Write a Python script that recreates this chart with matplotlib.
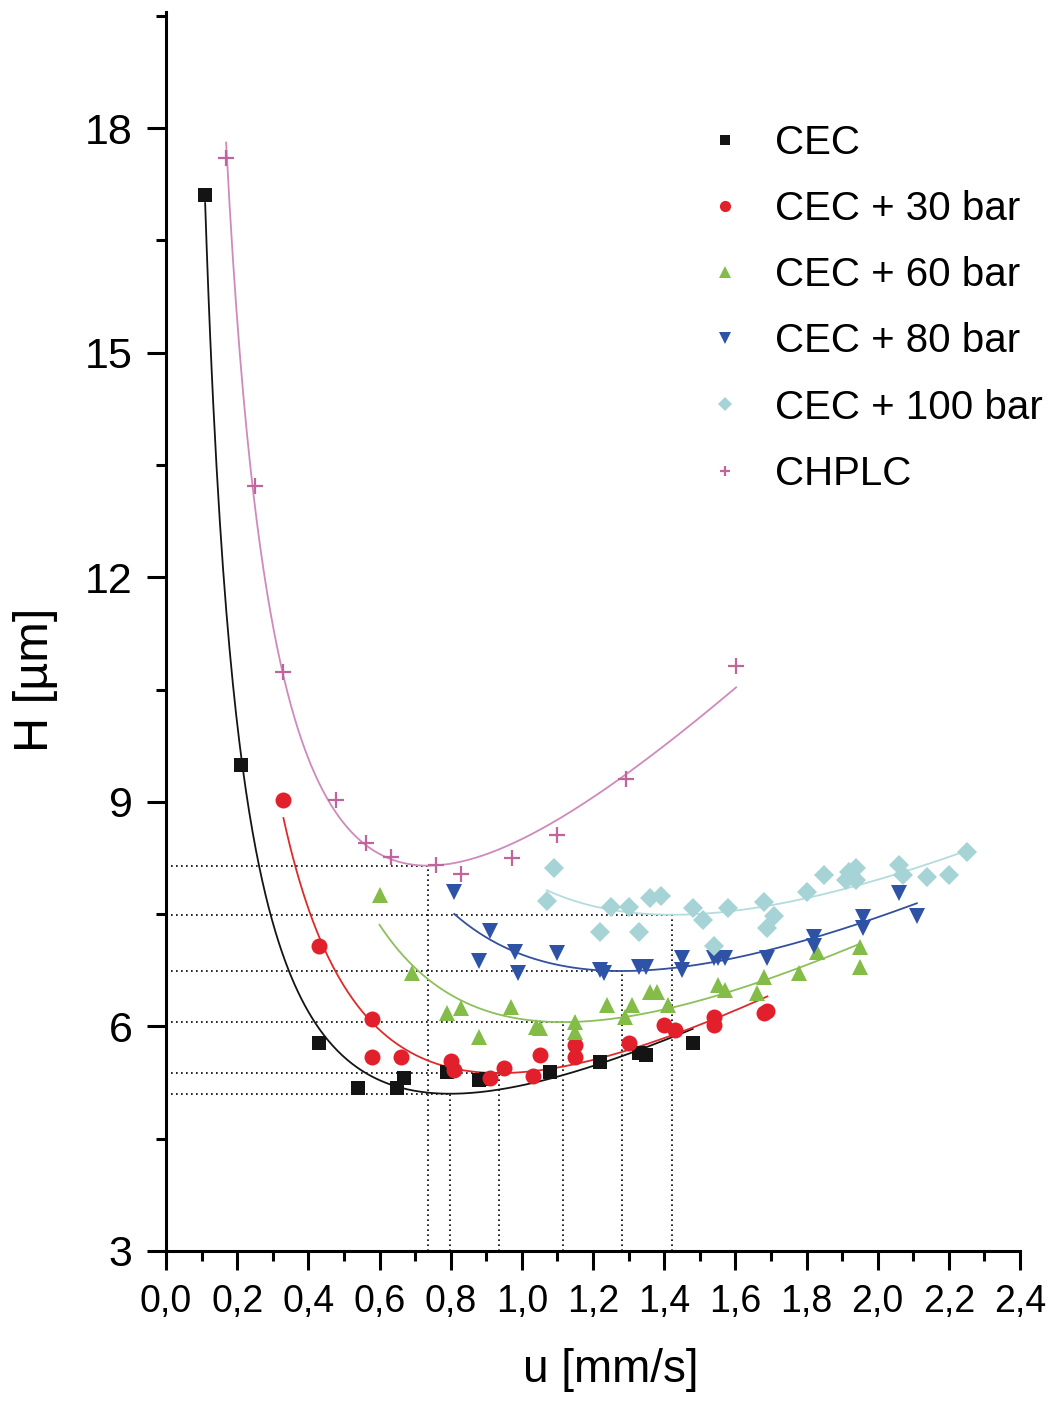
import matplotlib
matplotlib.use("Agg")
import matplotlib.pyplot as plt
from matplotlib.ticker import MultipleLocator, FuncFormatter
import numpy as np

plt.rcParams['font.family'] = ['Liberation Sans', 'DejaVu Sans']

labels = ['CEC', 'CEC + 30 bar', 'CEC + 60 bar', 'CEC + 80 bar', 'CEC + 100 bar', 'CHPLC']

# linear velocity u [mm/s] and plate height H [um]
u_cec = [0.11, 0.21, 0.43, 0.54, 0.65, 0.67, 0.79, 0.88, 0.90, 1.08, 1.22, 1.33, 1.35, 1.48]
h_cec = [17.1, 9.49, 5.78, 5.18, 5.18, 5.31, 5.39, 5.28, 5.30, 5.39, 5.52, 5.64, 5.62, 5.78]

u_30 = [0.33, 0.43, 0.58, 0.58, 0.66, 0.80, 0.81, 0.91, 0.95, 1.03, 1.05, 1.15, 1.15, 1.30,
        1.40, 1.43, 1.54, 1.54, 1.68, 1.69]
h_30 = [9.02, 7.07, 6.10, 5.59, 5.59, 5.54, 5.42, 5.31, 5.44, 5.34, 5.62, 5.75, 5.59, 5.78,
        6.02, 5.95, 6.12, 6.02, 6.18, 6.20]

u_60 = [0.60, 0.69, 0.79, 0.83, 0.88, 0.97, 1.04, 1.05, 1.15, 1.15, 1.24, 1.29, 1.31, 1.36,
        1.38, 1.41, 1.55, 1.57, 1.66, 1.68, 1.78, 1.83, 1.95, 1.95]
h_60 = [7.75, 6.71, 6.18, 6.24, 5.86, 6.26, 5.99, 5.98, 6.06, 5.92, 6.28, 6.12, 6.28, 6.46,
        6.46, 6.28, 6.55, 6.48, 6.44, 6.66, 6.71, 6.99, 7.06, 6.79]

u_80 = [0.81, 0.88, 0.91, 0.98, 0.99, 1.10, 1.22, 1.23, 1.33, 1.35, 1.45, 1.45, 1.54, 1.55,
        1.57, 1.69, 1.82, 1.82, 1.96, 1.96, 2.06, 2.11]
h_80 = [7.79, 6.88, 7.28, 6.99, 6.71, 6.98, 6.75, 6.71, 6.79, 6.79, 6.91, 6.75, 6.91, 6.91,
        6.91, 6.91, 7.19, 7.08, 7.46, 7.31, 7.78, 7.48]

u_100 = [1.07, 1.09, 1.22, 1.25, 1.30, 1.33, 1.36, 1.39, 1.48, 1.51, 1.54, 1.58, 1.68, 1.69,
         1.71, 1.80, 1.85, 1.91, 1.92, 1.94, 1.94, 2.06, 2.07, 2.14, 2.20, 2.25]
h_100 = [7.68, 8.12, 7.26, 7.59, 7.59, 7.26, 7.72, 7.74, 7.58, 7.42, 7.08, 7.58, 7.66, 7.31,
         7.48, 7.79, 8.02, 7.95, 8.06, 8.12, 7.95, 8.15, 8.02, 7.99, 8.02, 8.33]

u_hplc = [0.169, 0.25, 0.329, 0.478, 0.562, 0.633, 0.759, 0.829, 0.972, 1.099, 1.293, 1.602]
h_hplc = [17.60, 13.22, 10.74, 9.02, 8.45, 8.26, 8.15, 8.03, 8.25, 8.55, 9.31, 10.82]

series = [(u_cec, h_cec), (u_30, h_30), (u_60, h_60), (u_80, h_80), (u_100, h_100), (u_hplc, h_hplc)]

markers = ['s', 'o', '^', 'v', 'D', '+']
msizes = [10.5, 11.5, 12, 12, 10, 11]
point_colors = ['#141414', '#e1202b', '#84bc48', '#2d52a6', '#a6d4d6', '#c0649c']
line_colors = ['#141414', '#e02a2a', '#8cc05a', '#33509e', '#b4dcdc', '#cf8abb']

fig = plt.figure(figsize=(10.58, 14.01), dpi=100)
ax = fig.add_axes([0.1569, 0.1071, 0.8072, 0.8843])

for i, (u, h) in enumerate(series):
    u = np.array(u)
    h = np.array(h)
    # van Deemter fit H = A + B/u + C*u
    X = np.column_stack([np.ones_like(u), 1 / u, u])
    A, B, C = np.linalg.lstsq(X, h, rcond=None)[0]
    uu = np.linspace(u.min(), u.max(), 300)
    ax.plot(uu, A + B / uu + C * uu, color=line_colors[i], lw=1.3, zorder=2)

    # minimum of the curve, marked with dotted lines
    u_opt = np.sqrt(B / C)
    h_min = A + 2 * np.sqrt(B * C)
    ax.plot([0, u_opt], [h_min, h_min], color='k', lw=1.2, ls=(0, (1, 2)), zorder=1)
    ax.plot([u_opt, u_opt], [3, h_min], color='k', lw=1.2, ls=(0, (1, 2)), zorder=1)

for i, (u, h) in enumerate(series):
    if markers[i] == '+':
        ax.plot(u, h, ls='none', marker='+', ms=msizes[i], mew=1.6,
                color=point_colors[i], label=labels[i], zorder=3)
    else:
        ax.plot(u, h, ls='none', marker=markers[i], ms=msizes[i], mew=0,
                color=point_colors[i], label=labels[i], zorder=3)

ax.set_xlim(0, 2.4)
ax.set_ylim(3, 19.55)
ax.spines['top'].set_visible(False)
ax.spines['right'].set_visible(False)
for s in ['left', 'bottom']:
    ax.spines[s].set_linewidth(2.2)

ax.xaxis.set_major_locator(MultipleLocator(0.2))
ax.xaxis.set_minor_locator(MultipleLocator(0.1))
ax.yaxis.set_major_locator(MultipleLocator(3))
ax.yaxis.set_minor_locator(MultipleLocator(1.5))
ax.xaxis.set_major_formatter(FuncFormatter(lambda v, p: f'{v:.1f}'.replace('.', ',')))
ax.tick_params(which='major', direction='out', length=14, width=2.2, labelsize=31, pad=10)
ax.tick_params(which='minor', direction='out', length=7, width=2.2)
ax.tick_params(axis='x', labelsize=27)

ax.set_xlabel('u [mm/s]', fontsize=33)
ax.set_ylabel('H [µm]', fontsize=35)
ax.xaxis.set_label_coords(0.521, -0.078)
ax.yaxis.set_label_coords(-0.126, 0.461)

ax.legend(loc='upper left', bbox_to_anchor=(0.647, 0.926), bbox_transform=fig.transFigure,
          frameon=False, fontsize=29, markerscale=0.7, handlelength=1.0,
          handletextpad=0.75, labelspacing=0.70, borderpad=0)

fig.savefig('out.png', dpi=100)
